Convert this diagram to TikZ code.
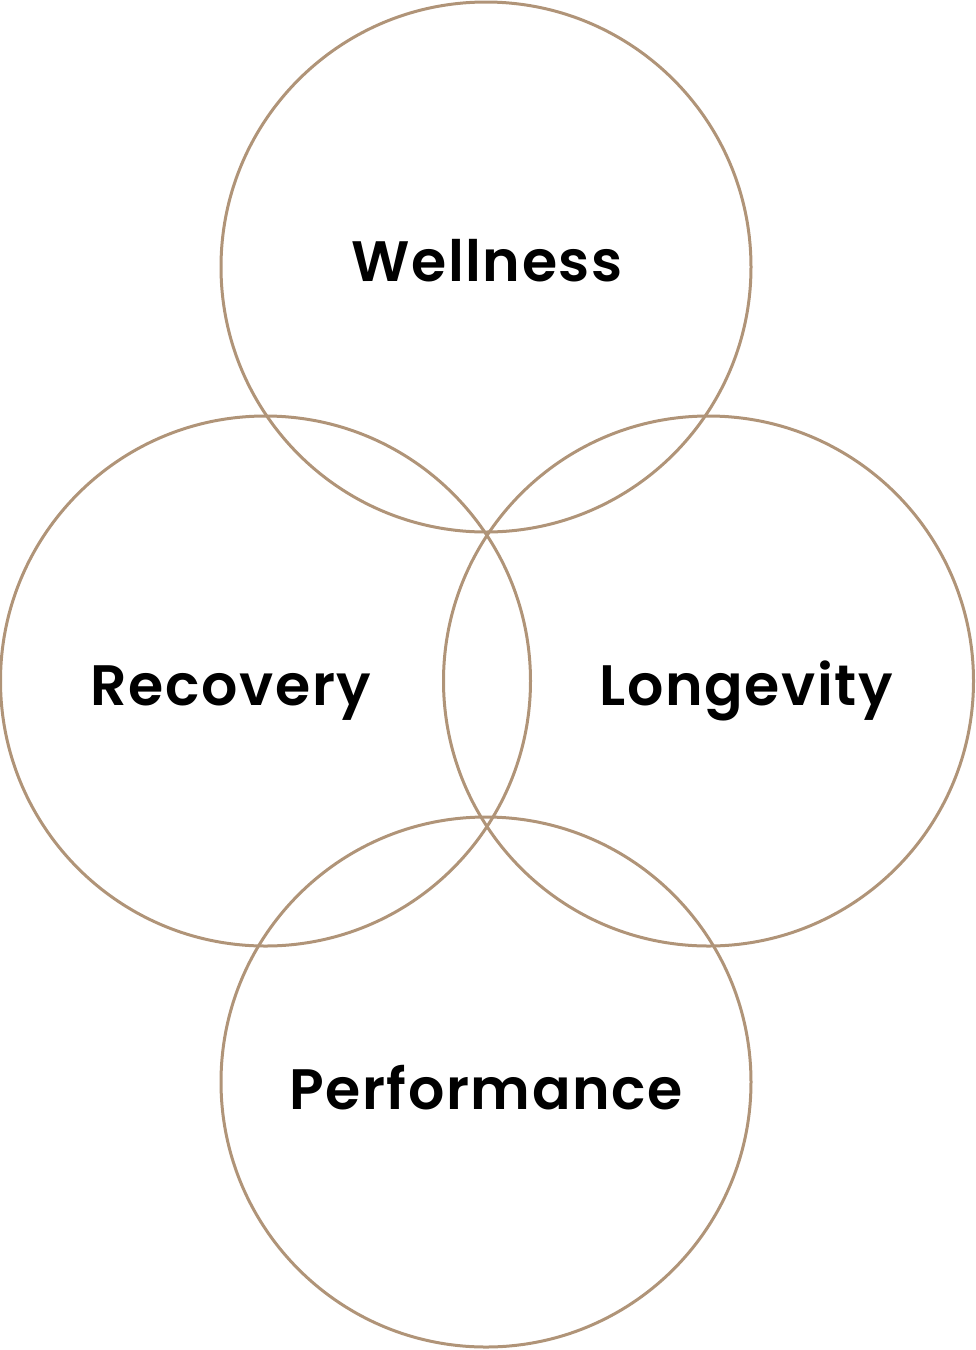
\documentclass[tikz,border=0pt]{standalone}
\usepackage{fontspec}
\setmainfont{Poppins}[BoldFont={Poppins SemiBold},LetterSpace=2.8]
\definecolor{ring}{HTML}{B09478}
\begin{document}
\begin{tikzpicture}[x=1pt,y=-1pt,
  ringstyle/.style={draw=ring,line width=3pt,circle,minimum size=530pt,inner sep=0pt},
  lbl/.style={font=\fontsize{57}{60}\selectfont\bfseries,text=black,anchor=base}]
\useasboundingbox (0,0) rectangle (976,1350);
\node[ringstyle] (top) at (486,267) {};
\node[ringstyle] (left) at (265.5,681) {};
\node[ringstyle] (right) at (708.5,681) {};
\node[ringstyle] (bottom) at (486,1082) {};
\node[lbl] (w) at (487,281) {Wellness};
\node[lbl] (r) at (231,705) {Recovery};
\node[lbl] (l) at (746,705) {Longevity};
\node[lbl] (p) at (486,1109) {Performance};
\end{tikzpicture}
\end{document}
